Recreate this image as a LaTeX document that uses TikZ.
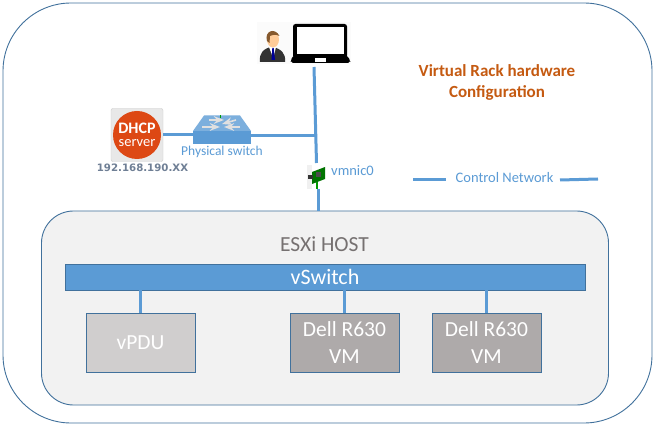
\documentclass[tikz,border=0pt]{standalone}
\usepackage{fontspec}
\setmainfont{Carlito}
\newfontfamily\ipfont{DejaVu Sans}
\usepackage{xcolor}
\usetikzlibrary{arrows.meta, positioning, calc}
\definecolor{LinkBlue}{HTML}{5B9BD5}
\definecolor{EdgeBlue}{HTML}{41719C}
\definecolor{HostGray}{HTML}{F2F2F2}
\definecolor{HostText}{HTML}{767171}
\definecolor{VpduGray}{HTML}{D0CECE}
\definecolor{DellGray}{HTML}{AEAAAA}
\definecolor{TitleOrange}{HTML}{C55A11}
\definecolor{DhcpRed}{HTML}{DD4814}
\definecolor{IpGray}{HTML}{6F7F95}
\tikzset{
  link/.style={draw=LinkBlue, line width=3pt},
  vmbox/.style={draw=EdgeBlue, line width=0.9pt, text=white, align=center, font=\fontsize{21.5}{27}\selectfont,
    minimum width=109pt, minimum height=59pt, inner sep=0pt},
  bluetext/.style={text=LinkBlue, inner sep=0pt}
}
\begin{document}
\begin{tikzpicture}[>=Stealth, x=1pt, y=-1pt]
        \useasboundingbox (0,0) rectangle (655,427);
        % Outer frame and host
        \draw [EdgeBlue, line width=0.9pt, fill=white, rounded corners=68pt] (3,3) rectangle (652,423);
        \node (host) [draw=EdgeBlue, line width=0.9pt, fill=HostGray, rounded corners=32pt, minimum width=567pt, minimum height=194pt, inner sep=0pt] at (325,308) {};
        \node (hostlabel) [text=HostText, font=\fontsize{21.5}{26}\selectfont, inner sep=0pt] at (324.5,244) {ESXi HOST};
        % vSwitch and VMs
        \node (vswitch) [draw=EdgeBlue, line width=0.9pt, fill=LinkBlue, text=white, font=\fontsize{22}{26}\selectfont, minimum width=520pt, minimum height=26pt, inner sep=0pt] at (325,277) {vSwitch};
        \node (vpdu) [vmbox, fill=VpduGray] at (140.5,342.5) {vPDU};
        \node (dellone) [vmbox, fill=DellGray] at (344.5,342.5) {Dell R630\\VM};
        \node (delltwo) [vmbox, fill=DellGray] at (486.5,342.5) {Dell R630\\VM};
        \draw [link] (vswitch.south -| vpdu.north) -- (vpdu.north);
        \draw [link] (vswitch.south -| dellone.north) -- (dellone.north);
        \draw [link] (vswitch.south -| delltwo.north) -- (delltwo.north);
        % Laptop and person
        \fill [black!1.5] (257,22) rectangle (351,64);
        \node (laptop) [minimum width=60pt, minimum height=42pt, inner sep=0pt] at (320,44) {};
        \fill [black, rounded corners=2.5pt] (293,24) rectangle (347,58);
        \fill [white] (297,27.5) rectangle (344,54);
        \fill [black] (319.3,26) rectangle (320.7,27.5);
        \fill [black, rounded corners=2pt] (294,55) -- (346,55) -- (350.5,60) -- (350,63) -- (291,63) -- (290.5,60) -- cycle;
        \fill [white] (315,58) rectangle (326,61.8);
        \node (person) [minimum width=25pt, minimum height=32pt, inner sep=0pt] at (272.5,46) {};
        \fill [black!80] (260,62) .. controls (259,53) and (263,49) .. (272,46.5) .. controls (281,49) and (286,53) .. (285,62) -- cycle;
        \fill [white] (269,47) -- (276,47) -- (274,55) -- (272,55) -- cycle;
        \fill [blue!60!black] (272.3,48) -- (273.7,48) -- (275,60) -- (271.5,60) -- cycle;
        \fill [orange!40!white] (273,39.5) ellipse (6pt and 8pt);
        \fill [brown!70!black] (267,41) .. controls (264,31) and (275,27) .. (279.5,36) .. controls (276,34) and (272,35) .. (270,36) -- (269.5,43) -- cycle;
        % DHCP server
        \node (dhcp) [fill=black!9, draw=black!20, rounded corners=2pt, minimum width=52pt, minimum height=53pt, inner sep=0pt] at (137,135) {};
        \node (dhcpdisc) [circle, fill=DhcpRed, minimum size=48pt, inner sep=0pt] at (137,135) {};
        \node (dhcpword) [text=white, font=\bfseries\fontsize{16}{18}\selectfont, inner sep=0pt] at (137,128.5) {DHCP};
        \node (serverword) [text=white, font=\fontsize{14.5}{16}\selectfont, inner sep=0pt] at (137,143.5) {server};
        \node (dhcpip) [text=IpGray, font=\ipfont\bfseries\fontsize{10.2}{12}\selectfont, inner sep=0pt] at (142.5,167.5) {192.168.190.XX};
        % Physical switch
        \node (switch) [fill=LinkBlue, minimum width=58pt, minimum height=13pt, inner sep=0pt] at (222,137.5) {};
        \fill [LinkBlue!80!white] (193,131) -- (204,115.5) -- (240,115.5) -- (251,131) -- cycle;
        \draw [->, black!12, line width=1.6pt] (202,127) -- (220,127);
        \draw [->, black!12, line width=1.6pt] (240,127) -- (224,127);
        \draw [->, black!12, line width=1.6pt] (209,120) -- (224,120);
        \draw [->, black!12, line width=1.6pt] (236,120) -- (222,124);
        \fill [green!60!black] (219.5,115) rectangle (221,118);
        \node (switchlabel) [bluetext, font=\fontsize{13.5}{16}\selectfont] at (222,152) {Physical switch};
        \draw [link] (dhcp.east) -- (dhcp.east -| switch.west);
        % NIC
        \node (nic) [minimum width=18pt, minimum height=24pt, inner sep=0pt] at (316.5,177) {};
        \fill [black!6] (307,165) rectangle (312,189);
        \fill [green!45!black] (312,172) -- (325,167) -- (325,179) -- (312,184) -- cycle;
        \fill [green!60!black] (315.5,182) rectangle (317.5,189);
        \fill [black!80] (308,175) rectangle (313,179);
        \fill [black!70] (316,172) rectangle (321,177);
        \node (niclabel) [bluetext, font=\fontsize{14.5}{17}\selectfont, anchor=west] at (331,171) {vmnic0};
        % Network links
        \coordinate (laptopport) at (314,67);
        \coordinate (nicport) at (316.5,163);
        \coordinate (tap) at (315,136);
        \coordinate (hostport) at (318,211);
        \draw [link] (laptopport) -- (nicport);
        \draw [link] (switch.east |- tap) -- (tap);
        \draw [link] (nic.south -| hostport) -- (hostport);
        % Legend
        \node (legend) [bluetext, font=\fontsize{14.5}{17}\selectfont] at (504.5,178) {Control Network};
        \coordinate (legendleft) at (413,180);
        \coordinate (legendleftend) at (446,180);
        \coordinate (legendrightstart) at (560,180);
        \coordinate (legendright) at (598,179);
        \draw [link] (legendleft) -- (legendleftend);
        \draw [link] (legendrightstart) -- (legendright);
        % Title
        \node (title) [text=TitleOrange, align=center, font=\bfseries\fontsize{17}{21}\selectfont, inner sep=0pt] at (497,82.5) {Virtual Rack hardware\\Configuration};
    \end{tikzpicture}
\end{document}
